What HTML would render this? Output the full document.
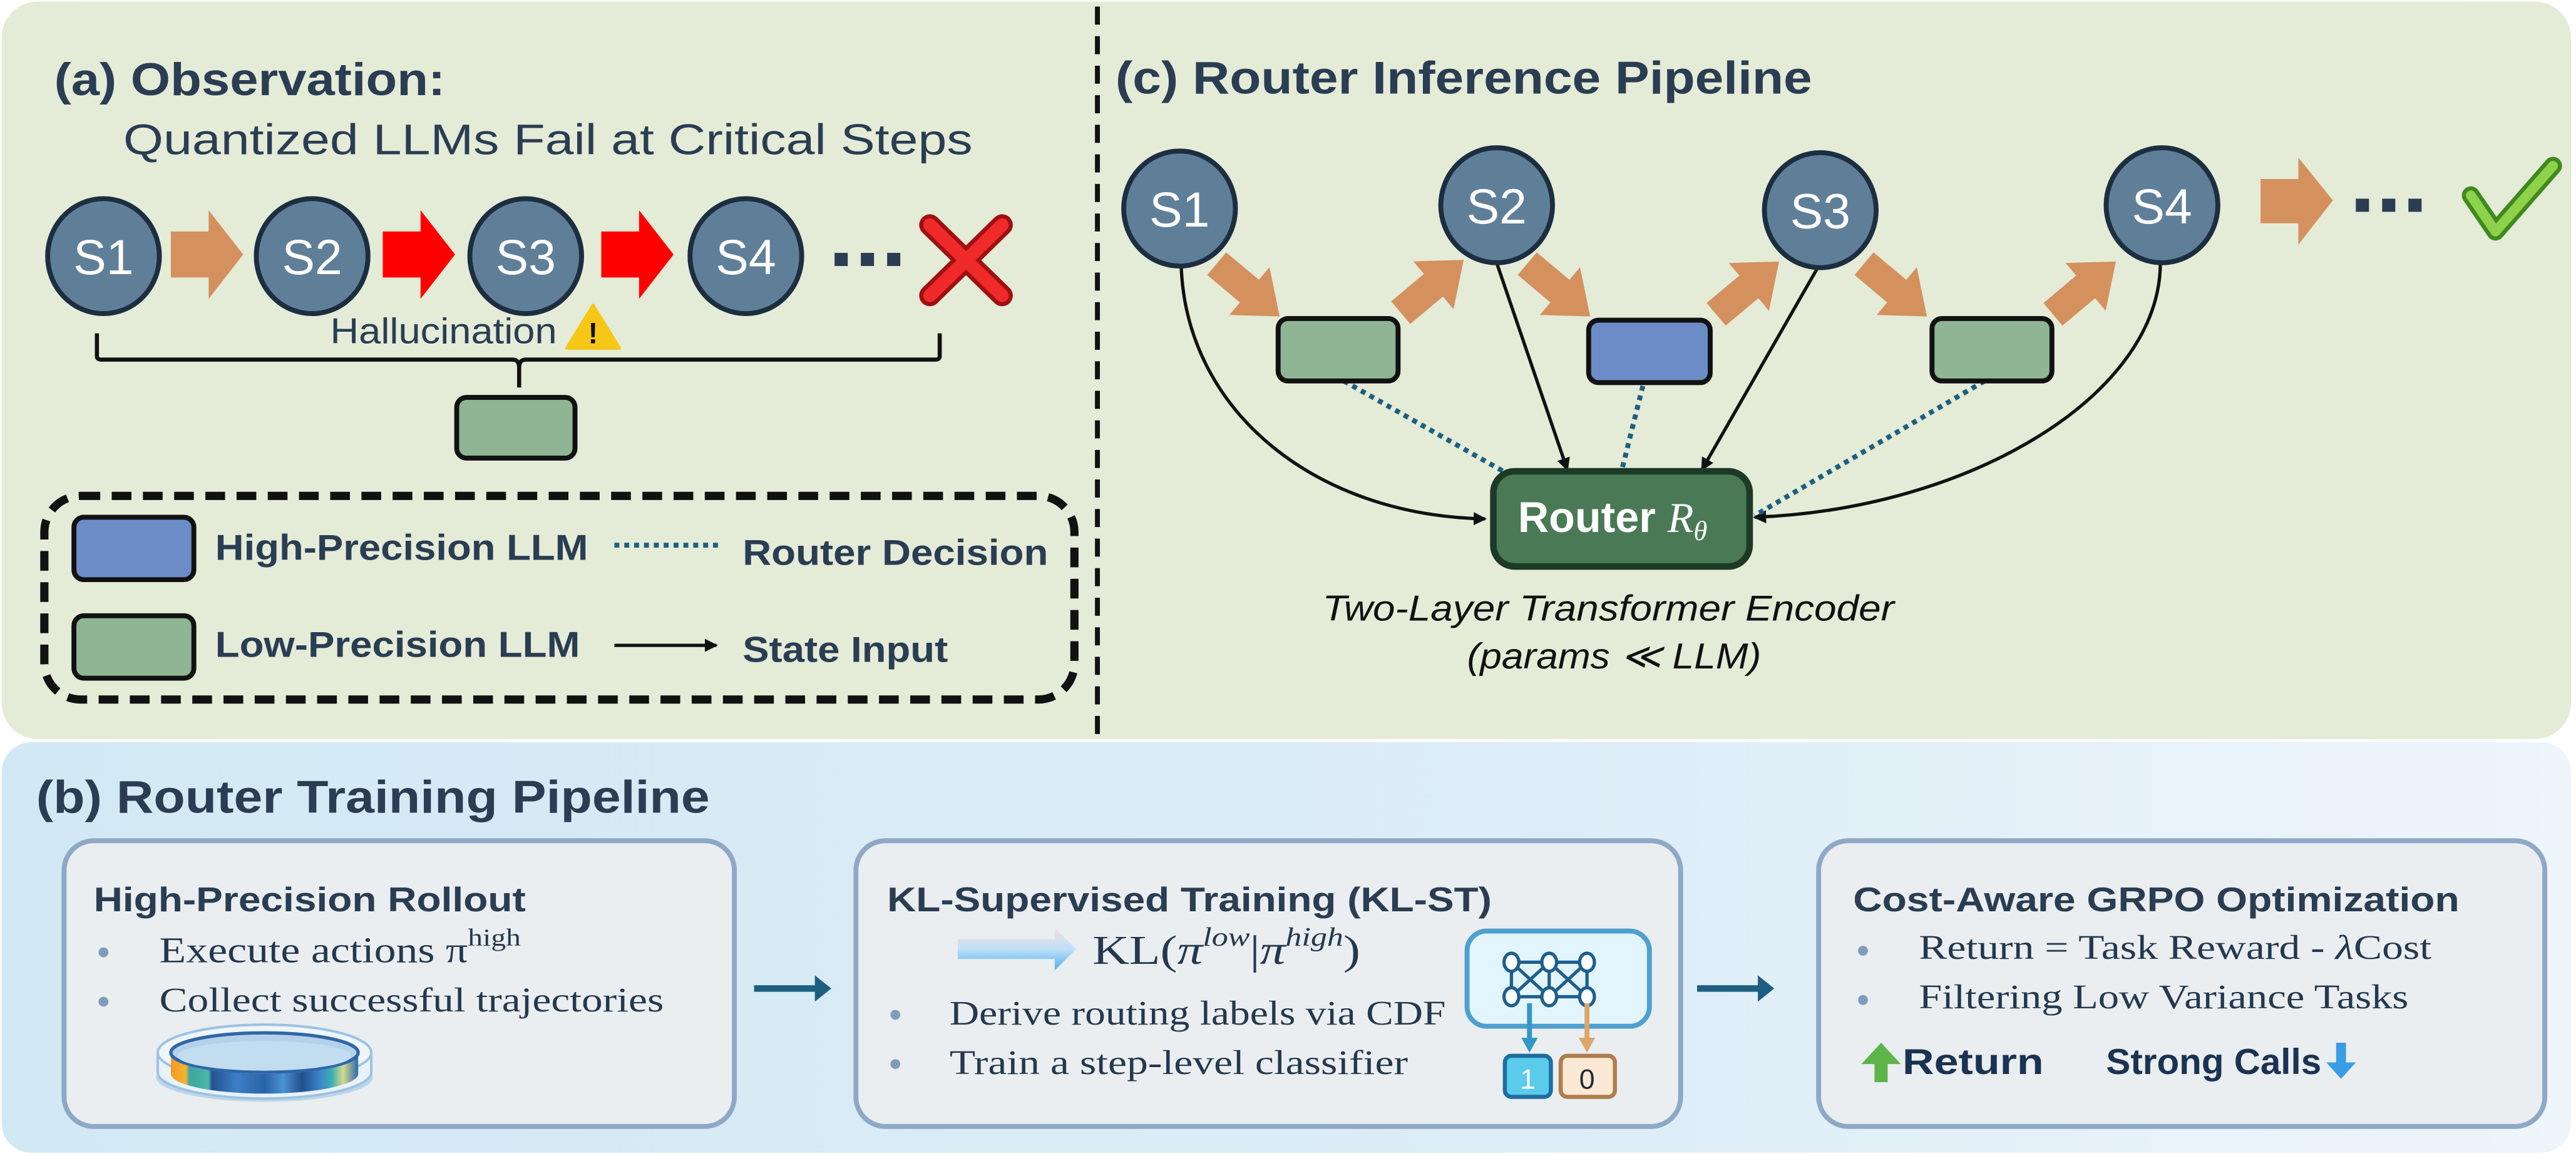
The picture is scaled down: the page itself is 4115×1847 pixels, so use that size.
<!DOCTYPE html>
<html><head><meta charset="utf-8"><style>
html,body{margin:0;padding:0;background:#fff;}
svg{display:block;}
.t{font-family:"Liberation Sans",sans-serif;fill:#2a3d52;}
.s{font-family:"Liberation Serif",serif;fill:#24384e;}
</style></head><body>
<svg width="4115" height="1847" viewBox="0 0 1568 704" preserveAspectRatio="none" xmlns="http://www.w3.org/2000/svg">
<defs>
<linearGradient id="bg" x1="0" x2="1" y1="0" y2="0"><stop offset="0" stop-color="#d2e9f5"/><stop offset="0.6" stop-color="#dcedf7"/><stop offset="1" stop-color="#eef5fb"/></linearGradient>
<linearGradient id="ga" x1="0" x2="0" y1="0" y2="1"><stop offset="0" stop-color="#f4e0dc"/><stop offset="0.5" stop-color="#bfe0f7"/><stop offset="1" stop-color="#4fb0ef"/></linearGradient>
<linearGradient id="stripes" x1="0" x2="1" y1="0" y2="0">
<stop offset="0" stop-color="#f39a2a"/><stop offset="0.08" stop-color="#f6b22e"/><stop offset="0.1" stop-color="#3aa6a0"/><stop offset="0.2" stop-color="#4bb8a8"/><stop offset="0.22" stop-color="#23508f"/><stop offset="0.35" stop-color="#3d7fc6"/><stop offset="0.5" stop-color="#2a62a6"/><stop offset="0.6" stop-color="#4a92d2"/><stop offset="0.7" stop-color="#224f8e"/><stop offset="0.8" stop-color="#3c86cc"/><stop offset="0.86" stop-color="#3bb0b0"/><stop offset="0.92" stop-color="#d5d98c"/><stop offset="1" stop-color="#2a6ab0"/>
</linearGradient>
<marker id="ah" markerWidth="8" markerHeight="8" refX="7" refY="4" orient="auto" markerUnits="userSpaceOnUse"><path d="M0,0 L8,4 L0,8 z" fill="#111"/></marker>
<g id="da"><polygon points="-24,-9 2,-9 2,-19 26,0 2,19 2,9 -24,9" fill="#d4915e"/></g>
</defs>
<!-- panels -->
<rect x="1" y="1" width="1564" height="449" rx="22" fill="#e4ebd7"/>
<rect x="1" y="452" width="1564" height="250" rx="18" fill="url(#bg)"/>
<line x1="668" y1="4" x2="668" y2="450" stroke="#111" stroke-width="3" stroke-dasharray="11,7"/>

<!-- (a) -->
<text class="t" x="33" y="58" font-size="28" font-weight="bold" textLength="238" lengthAdjust="spacingAndGlyphs">(a) Observation:</text>
<text class="t" x="75" y="94" font-size="26" textLength="517" lengthAdjust="spacingAndGlyphs">Quantized LLMs Fail at Critical Steps</text>
<g stroke="#1c2e3f" stroke-width="3" fill="#5f7f99">
<ellipse cx="63" cy="156" rx="34" ry="35"/><ellipse cx="190" cy="156" rx="34" ry="35"/><ellipse cx="320" cy="156" rx="34" ry="35"/><ellipse cx="454" cy="156" rx="34" ry="35"/>
</g>
<g font-family="Liberation Sans" font-size="30" fill="#fff" text-anchor="middle">
<text x="63" y="167">S1</text><text x="190" y="167">S2</text><text x="320" y="167">S3</text><text x="454" y="167">S4</text>
</g>
<polygon points="104,141 127,141 127,128 148,155 127,182 127,169 104,169" fill="#d4915e"/>
<polygon points="233,141 256,141 256,128 277,155 256,182 256,169 233,169" fill="#ff0000"/>
<polygon points="366,141 389,141 389,128 410,155 389,182 389,169 366,169" fill="#ff0000"/>
<g fill="#2a3d52"><rect x="508" y="154" width="8" height="8"/><rect x="524" y="154" width="8" height="8"/><rect x="540" y="154" width="8" height="8"/></g>
<g stroke-linecap="round"><line x1="566" y1="137" x2="610" y2="180" stroke="#a01010" stroke-width="13"/><line x1="610" y1="137" x2="566" y2="180" stroke="#a01010" stroke-width="13"/>
<line x1="566" y1="137" x2="610" y2="180" stroke="#f02a2a" stroke-width="8"/><line x1="610" y1="137" x2="566" y2="180" stroke="#f02a2a" stroke-width="8"/></g>
<text class="t" x="201" y="209" font-size="22" textLength="138" lengthAdjust="spacingAndGlyphs">Hallucination</text>
<polygon points="361,186 377,212 345,212" fill="#f7c716" stroke="#f7c716" stroke-width="2" stroke-linejoin="round"/>
<text x="361" y="209" font-family="Liberation Sans" font-weight="bold" font-size="18" text-anchor="middle" fill="#111">!</text>
<path d="M59,203 L59,217 Q59,219 62,219 L312,219 Q316,219 316,224 L316,236 M316,224 Q316,219 320,219 L569,219 Q572,219 572,217 L572,203" fill="none" stroke="#111" stroke-width="2.5"/>
<rect x="278" y="242" width="72" height="37" rx="6" fill="#8fb594" stroke="#111" stroke-width="3"/>
<!-- legend -->
<rect x="27" y="302" width="627" height="124" rx="22" fill="none" stroke="#111" stroke-width="5" stroke-dasharray="12,7"/>
<rect x="45" y="315" width="73" height="38" rx="6" fill="#6b8cc7" stroke="#111" stroke-width="3"/>
<rect x="45" y="375" width="73" height="38" rx="6" fill="#8fb594" stroke="#111" stroke-width="3"/>
<text class="t" x="131" y="341" font-size="22" font-weight="bold" textLength="227" lengthAdjust="spacingAndGlyphs">High-Precision LLM</text>
<text class="t" x="452" y="344" font-size="22" font-weight="bold" textLength="186" lengthAdjust="spacingAndGlyphs">Router Decision</text>
<text class="t" x="131" y="400" font-size="22" font-weight="bold" textLength="222" lengthAdjust="spacingAndGlyphs">Low-Precision LLM</text>
<text class="t" x="452" y="403" font-size="22" font-weight="bold" textLength="125" lengthAdjust="spacingAndGlyphs">State Input</text>
<line x1="374" y1="332" x2="440" y2="332" stroke="#1d5f80" stroke-width="3" stroke-dasharray="3,3"/>
<line x1="374" y1="393" x2="436" y2="393" stroke="#111" stroke-width="2" marker-end="url(#ah)"/>

<!-- (c) -->
<text class="t" x="679" y="57" font-size="28" font-weight="bold" textLength="424" lengthAdjust="spacingAndGlyphs">(c) Router Inference Pipeline</text>
<g fill="none" stroke-width="2">
<path d="M719,162 C722,250 800,314 904,316" stroke="#111" marker-end="url(#ah)"/>
<path d="M1315,160 C1315,240 1200,310 1068,315" stroke="#111" marker-end="url(#ah)"/>
<line x1="911" y1="160" x2="954" y2="286" stroke="#111" marker-end="url(#ah)"/>
<line x1="1107" y1="162" x2="1036" y2="286" stroke="#111" marker-end="url(#ah)"/>
<g stroke="#1d5f80" stroke-width="3" stroke-dasharray="3,3">
<line x1="818" y1="232" x2="915" y2="287"/><line x1="1000" y1="235" x2="987" y2="287"/><line x1="1208" y1="232" x2="1068" y2="314"/>
</g></g>
<g stroke="#1c2e3f" stroke-width="3" fill="#5f7f99">
<ellipse cx="718" cy="127" rx="34" ry="35"/><ellipse cx="911" cy="125" rx="34" ry="35"/><ellipse cx="1108" cy="128" rx="34" ry="35"/><ellipse cx="1316" cy="125" rx="34" ry="35"/>
</g>
<g font-family="Liberation Sans" font-size="30" fill="#fff" text-anchor="middle">
<text x="718" y="138">S1</text><text x="911" y="136">S2</text><text x="1108" y="139">S3</text><text x="1316" y="136">S4</text>
</g>
<use href="#da" transform="translate(759,176) rotate(40)"/>
<use href="#da" transform="translate(871,175) rotate(-40)"/>
<use href="#da" transform="translate(948,176) rotate(40)"/>
<use href="#da" transform="translate(1063,176) rotate(-40)"/>
<use href="#da" transform="translate(1153,176) rotate(40)"/>
<use href="#da" transform="translate(1268,176) rotate(-40)"/>
<rect x="778" y="194" width="73" height="38" rx="6" fill="#8fb594" stroke="#111" stroke-width="3"/>
<rect x="967" y="195" width="74" height="38" rx="6" fill="#6b8cc7" stroke="#111" stroke-width="3"/>
<rect x="1176" y="194" width="73" height="38" rx="6" fill="#8fb594" stroke="#111" stroke-width="3"/>
<polygon points="1376,109 1399,109 1399,96 1420,122 1399,149 1399,136 1376,136" fill="#d4915e"/>
<g fill="#2a3d52"><rect x="1434" y="121" width="8" height="8"/><rect x="1450" y="121" width="8" height="8"/><rect x="1466" y="121" width="8" height="8"/></g>
<polyline points="1504,119 1519,141 1554,101" fill="none" stroke="#3f8a1e" stroke-width="11" stroke-linejoin="round" stroke-linecap="round"/>
<polyline points="1504,119 1519,141 1554,101" fill="none" stroke="#8ed14a" stroke-width="6" stroke-linejoin="round" stroke-linecap="round"/>
<rect x="909" y="287" width="156" height="58" rx="13" fill="#4a7a55" stroke="#1c3a26" stroke-width="4"/>
<text x="924" y="324" font-family="Liberation Sans" font-weight="bold" font-size="26" fill="#fff">Router <tspan font-family="Liberation Serif" font-style="italic" font-weight="normal">R</tspan><tspan font-family="Liberation Serif" font-style="italic" font-weight="normal" font-size="17" dy="5">θ</tspan></text>
<text class="t" x="805" y="378" font-size="22" font-style="italic" style="fill:#111" textLength="348" lengthAdjust="spacingAndGlyphs">Two-Layer Transformer Encoder</text>
<text class="t" x="893" y="407" font-size="22" font-style="italic" style="fill:#111" textLength="179" lengthAdjust="spacingAndGlyphs">(params ≪ LLM)</text>

<!-- (b) -->
<text class="t" x="22" y="495" font-size="28" font-weight="bold" textLength="410" lengthAdjust="spacingAndGlyphs">(b) Router Training Pipeline</text>
<g fill="#eaeef0" stroke="#8ea8c6" stroke-width="3">
<rect x="39" y="512" width="408" height="174" rx="18"/>
<rect x="521" y="512" width="502" height="174" rx="18"/>
<rect x="1107" y="512" width="442" height="174" rx="18"/>
</g>
<text class="t" x="57" y="555" font-size="21" font-weight="bold" textLength="263" lengthAdjust="spacingAndGlyphs">High-Precision Rollout</text>
<g fill="#7f9dba"><circle cx="63" cy="580" r="3"/><circle cx="63" cy="610" r="3"/><circle cx="545" cy="618" r="3"/><circle cx="545" cy="648" r="3"/><circle cx="1134" cy="579" r="3"/><circle cx="1134" cy="609" r="3"/></g>
<text class="s" x="97" y="586" font-size="22" textLength="220" lengthAdjust="spacingAndGlyphs">Execute actions π<tspan font-size="15" dy="-10">high</tspan></text>
<text class="s" x="97" y="616" font-size="21" textLength="307" lengthAdjust="spacingAndGlyphs">Collect successful trajectories</text>
<!-- disc -->
<ellipse cx="161" cy="656" rx="66" ry="15" fill="#a9cbe6" opacity="0.7"/>
<path d="M96,641 L96,653 A65,16 0 0 0 226,653 L226,641 z" fill="#e8f2fa" stroke="#9cc2e2" stroke-width="1.5"/>
<ellipse cx="161" cy="641" rx="65" ry="17" fill="#eef6fc" stroke="#9cc2e2" stroke-width="1.5"/>
<path d="M104,642 A57,12 0 0 0 218,642 L218,654 A57,12 0 0 1 104,654 z" fill="url(#stripes)"/>
<ellipse cx="161" cy="641" rx="57" ry="12" fill="#b3d1eb" stroke="#2f66a6" stroke-width="2"/>
<ellipse cx="161" cy="643" rx="53" ry="9" fill="#c2dcf0"/>
<!-- arrows -->
<polygon points="459,600 496,600 496,594 506,602 496,610 496,604 459,604" fill="#1d5f80"/>
<polygon points="1033,600 1070,600 1070,594 1080,602 1070,610 1070,604 1033,604" fill="#1d5f80"/>
<!-- card 2 -->
<text class="t" x="540" y="555" font-size="21" font-weight="bold" textLength="368" lengthAdjust="spacingAndGlyphs">KL-Supervised Training (KL-ST)</text>
<polygon points="583,572 642,572 642,565 655,578 642,591 642,584 583,584" fill="url(#ga)"/>
<text class="s" x="665" y="587" font-size="25" textLength="163" lengthAdjust="spacingAndGlyphs">KL(<tspan font-style="italic">π</tspan><tspan font-style="italic" font-size="16" dy="-11">low</tspan><tspan dy="11">|</tspan><tspan font-style="italic">π</tspan><tspan font-style="italic" font-size="16" dy="-11">high</tspan><tspan dy="11">)</tspan></text>
<text class="s" x="578" y="624" font-size="21" textLength="302" lengthAdjust="spacingAndGlyphs">Derive routing labels via CDF</text>
<text class="s" x="578" y="654" font-size="21" textLength="279" lengthAdjust="spacingAndGlyphs">Train a step-level classifier</text>
<rect x="893" y="567" width="111" height="58" rx="12" fill="#e3f5fc" stroke="#4ea0cf" stroke-width="3"/>
<g stroke="#1d5f8f" stroke-width="2" fill="none">
<line x1="920" y1="586" x2="966" y2="586"/><line x1="920" y1="607" x2="966" y2="607"/>
<line x1="920" y1="586" x2="920" y2="607"/><line x1="966" y1="586" x2="966" y2="607"/><line x1="943" y1="586" x2="943" y2="607"/>
<line x1="920" y1="586" x2="943" y2="607"/><line x1="943" y1="586" x2="920" y2="607"/><line x1="943" y1="586" x2="966" y2="607"/><line x1="966" y1="586" x2="943" y2="607"/>
</g>
<g fill="#fff" stroke="#1d5f8f" stroke-width="2"><ellipse cx="920" cy="586" rx="4.5" ry="5.5"/><ellipse cx="943" cy="586" rx="4.5" ry="5.5"/><ellipse cx="966" cy="586" rx="4.5" ry="5.5"/><ellipse cx="920" cy="607" rx="4.5" ry="5.5"/><ellipse cx="943" cy="607" rx="4.5" ry="5.5"/><ellipse cx="966" cy="607" rx="4.5" ry="5.5"/></g>
<line x1="931" y1="611" x2="931" y2="634" stroke="#3497c6" stroke-width="3"/><polygon points="926,632 936,632 931,641" fill="#3497c6"/>
<line x1="966" y1="611" x2="966" y2="634" stroke="#dca56b" stroke-width="3"/><polygon points="961,632 971,632 966,641" fill="#dca56b"/>
<rect x="916" y="643" width="28" height="25" rx="4" fill="#5bcbec" stroke="#1f6ea1" stroke-width="2.5"/>
<rect x="950" y="643" width="33" height="25" rx="4" fill="#fbe9d3" stroke="#b07d4d" stroke-width="2.5"/>
<text x="930" y="663" font-family="Liberation Sans" font-size="17" fill="#fff" text-anchor="middle">1</text>
<text x="966" y="663" font-family="Liberation Sans" font-size="17" fill="#1b2b3a" text-anchor="middle">0</text>
<!-- card 3 -->
<text class="t" x="1128" y="555" font-size="21" font-weight="bold" textLength="369" lengthAdjust="spacingAndGlyphs">Cost-Aware GRPO Optimization</text>
<text class="s" x="1168" y="584" font-size="21" textLength="312" lengthAdjust="spacingAndGlyphs">Return = Task Reward - <tspan font-style="italic">λ</tspan>Cost</text>
<text class="s" x="1168" y="614" font-size="21" textLength="298" lengthAdjust="spacingAndGlyphs">Filtering Low Variance Tasks</text>
<polygon points="1145,635 1157,648 1149,648 1149,659 1141,659 1141,648 1133,648" fill="#5db449"/>
<text class="t" x="1158" y="654" font-size="22" font-weight="bold" textLength="86" lengthAdjust="spacingAndGlyphs" style="fill:#1b3352">Return</text>
<text class="t" x="1282" y="654" font-size="22" font-weight="bold" textLength="131" lengthAdjust="spacingAndGlyphs" style="fill:#1b3352">Strong Calls</text>
<polygon points="1422,635 1428,635 1428,647 1434,647 1425,657 1416,647 1422,647" fill="#3a9de4"/>
</svg>
</body></html>
